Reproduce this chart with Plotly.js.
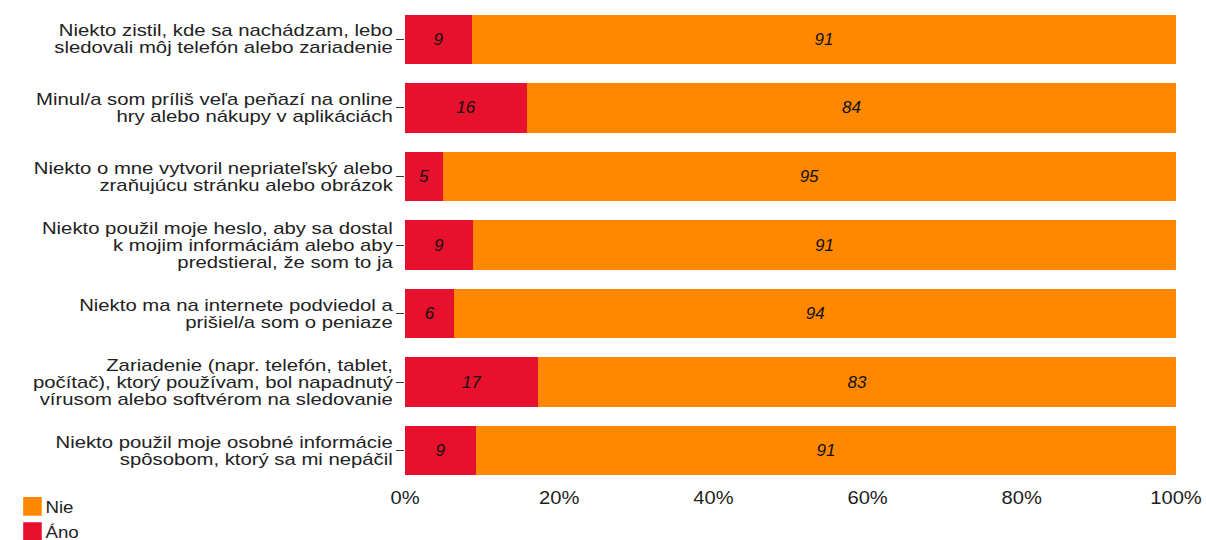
<!DOCTYPE html>
<html>
<head>
<meta charset="utf-8">
<script src="https://cdn.plot.ly/plotly-3.0.1.min.js"></script>
<style>
html,body{margin:0;padding:0;background:#fff;}
#chart{width:1206px;height:540px;}
</style>
</head>
<body>
<div id="chart"></div>
<script>
var categories = [
  "Niekto zistil, kde sa nachádzam, lebo<br>sledovali môj telefón alebo zariadenie",
  "Minul/a som príliš veľa peňazí na online<br>hry alebo nákupy v aplikáciách",
  "Niekto o mne vytvoril nepriateľský alebo<br>zraňujúcu stránku alebo obrázok",
  "Niekto použil moje heslo, aby sa dostal<br>k mojim informáciám alebo aby<br>predstieral, že som to ja",
  "Niekto ma na internete podviedol a<br>prišiel/a som o peniaze",
  "Zariadenie (napr. telefón, tablet,<br>počítač), ktorý používam, bol napadnutý<br>vírusom alebo softvérom na sledovanie",
  "Niekto použil moje osobné informácie<br>spôsobom, ktorý sa mi nepáčil"
];
var anoValues = [8.7, 15.8, 4.9, 8.8, 6.4, 17.3, 9.2];
var nieValues = [91.3, 84.2, 95.1, 91.2, 93.6, 82.7, 90.8];
var tickValues = [0, 20, 40, 60, 80, 100];
var tickLabels = ["0%", "20%", "40%", "60%", "80%", "100%"];

var FONT = "Liberation Sans, Arial, sans-serif";
var labelFont = {family: FONT, size: 17, color: "#111", style: "italic"};

var traces = [
  {
    type: "bar", orientation: "h", name: "Áno",
    y: categories, x: anoValues,
    marker: {color: "#E8112D"},
    texttemplate: "%{x:.0f}", textposition: "inside", insidetextanchor: "middle",
    textfont: labelFont, hoverinfo: "skip"
  },
  {
    type: "bar", orientation: "h", name: "Nie",
    y: categories, x: nieValues,
    marker: {color: "#FF8800"},
    texttemplate: "%{x:.0f}", textposition: "inside", insidetextanchor: "middle",
    textfont: labelFont, hoverinfo: "skip"
  }
];

var YFS = 16;
var layout = {
  width: 1206, height: 540,
  margin: {l: 405, r: 30, t: 5, b: 55, autoexpand: false},
  barmode: "stack",
  bargap: 0.28,
  paper_bgcolor: "#fff", plot_bgcolor: "#fff",
  font: {family: FONT, size: 17, color: "#222"},
  xaxis: {
    range: [0, 100], tickvals: tickValues, ticktext: tickLabels,
    showgrid: false, zeroline: false, showline: false, ticks: "",
    tickfont: {family: FONT, size: 18, color: "#222"}, fixedrange: true
  },
  yaxis: {
    autorange: "reversed", showgrid: false, zeroline: false, showline: false,
    ticks: "outside", ticklen: 8, tickwidth: 1, tickcolor: "#333",
    tickfont: {family: FONT, size: YFS, color: "#222"}, fixedrange: true
  },
  showlegend: true,
  legend: {
    x: -0.513, xanchor: "left", y: -0.008, yanchor: "top",
    traceorder: "reversed", orientation: "v",
    font: {family: FONT, size: 17, color: "#222"},
    tracegroupgap: 0, bgcolor: "rgba(0,0,0,0)"
  }
};

// scale a text element horizontally about its anchor x
function stretch(el, sx) {
  var x = parseFloat(el.getAttribute("x")) || 0;
  var tr = el.getAttribute("transform") || "";
  el.setAttribute("transform", tr + " translate(" + x + ",0) scale(" + sx + ",1) translate(" + (-x) + ",0)");
}

Plotly.newPlot("chart", traces, layout, {displayModeBar: false, staticPlot: true}).then(function (gd) {
  var LS = 1.3, newLS = 1.06;
  gd.querySelectorAll(".yaxislayer-above .ytick text").forEach(function (t) {
    var lines = t.querySelectorAll("tspan.line");
    var n = lines.length;
    lines.forEach(function (ln) {
      var dy = parseFloat(ln.getAttribute("dy")) || 0;
      var idx = Math.round(dy / LS);
      ln.setAttribute("dy", (idx * newLS) + "em");
    });
    var shift = n > 1 ? (n - 1) * (LS - newLS) * YFS / 2 : 0;
    var tr = t.getAttribute("transform") || "";
    t.setAttribute("transform", "translate(0," + shift + ") " + tr);
    stretch(t, 1.27);
  });
  gd.querySelectorAll(".xaxislayer-above .xtick text").forEach(function (t) { stretch(t, 1.12); });
  gd.querySelectorAll(".legend .legendpoints path").forEach(function (p) {
    var tr = p.getAttribute("transform") || "";
    p.setAttribute("transform", tr + " translate(3,0) scale(1.55)");
  });
  gd.querySelectorAll(".legend text.legendtext").forEach(function (t) {
    var x = parseFloat(t.getAttribute("x")) || 0;
    t.setAttribute("x", x - 4);
    t.querySelectorAll("tspan.line").forEach(function (ln) { ln.setAttribute("x", x - 4); });
    stretch(t, 1.1);
  });
});
</script>
</body>
</html>
